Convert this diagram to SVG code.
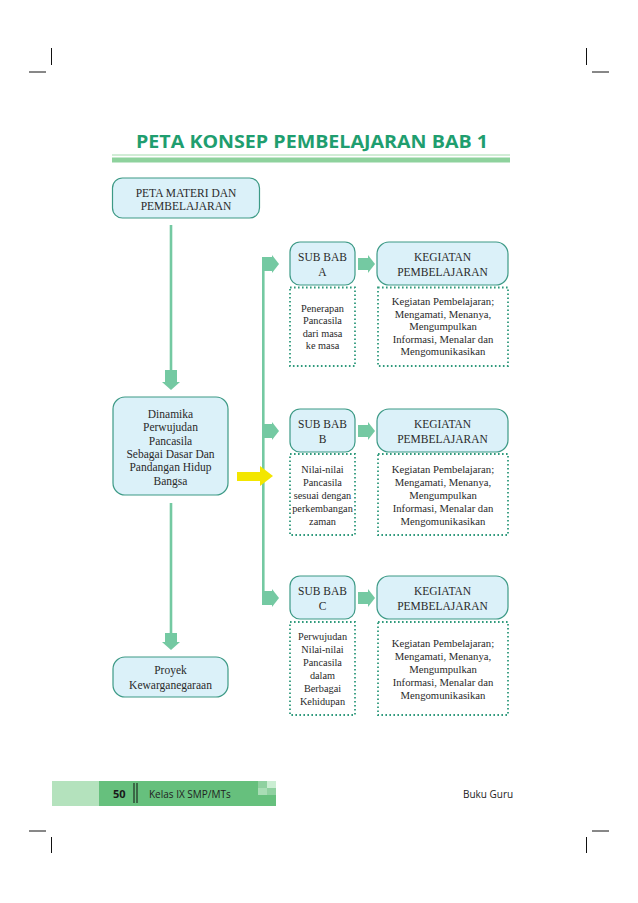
<svg xmlns="http://www.w3.org/2000/svg" width="638" height="903" viewBox="0 0 638 903">
<style>
.box{fill:#dbf1f9;stroke:#3d9a86;stroke-width:1.2}
.dot{fill:none;stroke:#2f9a7c;stroke-width:1.8;stroke-dasharray:1.6 2.4}
.t{font-family:"Liberation Serif","Times New Roman",serif;font-size:11.5px;fill:#2a2a2a;text-anchor:middle}
.s{font-family:"Liberation Serif","Times New Roman",serif;font-size:10.7px;fill:#2a2a2a;text-anchor:middle}
.sl{font-family:"Liberation Serif","Times New Roman",serif;font-size:10.3px;fill:#2a2a2a;text-anchor:middle}
.ln{stroke:#74c9a2;stroke-width:2.6;fill:none}
.ah{fill:#74c9a2}
.crop{stroke:#111;stroke-width:1;fill:none}
.ft{font-family:"Open Sans","Liberation Sans",sans-serif;font-size:10px;fill:#222}
</style>
<rect width="638" height="903" fill="#ffffff"/>
<g id="cropmarks">
<path class="crop" d="M51.5 48V65M29 72H46M586.5 48V65M592 72H609M29 831H46M51.5 837V853M592 831H609M586.5 837V853"/>
</g>
<g id="title">
<text x="136" y="147.5" font-family="'Open Sans','Liberation Sans',sans-serif" font-size="18" font-weight="bold" fill="#1f9e6f" textLength="352" lengthAdjust="spacingAndGlyphs">PETA KONSEP PEMBELAJARAN BAB 1</text>
<line x1="112" y1="155" x2="510" y2="155" stroke="#a2dbac" stroke-width="1"/>
<rect x="112" y="157.5" width="398" height="5" fill="#8ed29d"/>
</g>
<g id="connectors">
<line class="ln" x1="171" y1="225" x2="171" y2="372"/>
<rect class="ah" x="165" y="370" width="12" height="12"/>
<polygon class="ah" points="162,382 180,382 171,390"/>
<line class="ln" x1="171" y1="503" x2="171" y2="635"/>
<rect class="ah" x="165" y="633" width="12" height="9"/>
<polygon class="ah" points="162,642 180,642 171,650"/>
<line class="ln" x1="263.3" y1="264" x2="263.3" y2="598"/>
<rect class="ah" x="262" y="257" width="10" height="14"/>
<polygon class="ah" points="272,255 272,273 279,264"/>
<rect class="ah" x="262" y="424" width="10" height="14"/>
<polygon class="ah" points="272,422 272,440 279,431"/>
<rect class="ah" x="262" y="591" width="10" height="14"/>
<polygon class="ah" points="272,589 272,607 279,598"/>
<rect class="ah" x="358" y="258" width="10" height="12"/>
<polygon class="ah" points="368,255 368,273 375,264"/>
<rect class="ah" x="358" y="425" width="10" height="12"/>
<polygon class="ah" points="368,422 368,440 375,431"/>
<rect class="ah" x="358" y="592" width="10" height="12"/>
<polygon class="ah" points="368,589 368,607 375,598"/>
<rect x="237" y="472" width="23" height="9" fill="#f3e600"/>
<polygon points="260,466 260,486 273,476" fill="#f3e600"/>
</g>
<g id="peta-materi">
<rect class="box" x="112.5" y="178" width="147" height="40" rx="10"/>
<text class="t" x="186" y="196.5">PETA MATERI DAN</text>
<text class="t" x="186" y="210">PEMBELAJARAN</text>
</g>
<g id="dinamika">
<rect class="box" x="113" y="397" width="115" height="98" rx="12"/>
<text class="t" x="170.5" y="418">Dinamika</text>
<text class="t" x="170.5" y="431.3">Perwujudan</text>
<text class="t" x="170.5" y="444.6">Pancasila</text>
<text class="t" x="170.5" y="457.9">Sebagai Dasar Dan</text>
<text class="t" x="170.5" y="471.2">Pandangan Hidup</text>
<text class="t" x="170.5" y="484.5">Bangsa</text>
</g>
<g id="proyek">
<rect class="box" x="113" y="657" width="115" height="40" rx="12"/>
<text class="t" x="170.5" y="674">Proyek</text>
<text class="t" x="170.5" y="688.5">Kewarganegaraan</text>
</g>
<g id="subbab-a">
<rect class="box" x="290" y="242" width="65" height="43" rx="10"/>
<text class="t" x="322.5" y="261">SUB BAB</text>
<text class="t" x="322.5" y="276">A</text>
</g>
<g id="kegiatan-a">
<rect class="box" x="377" y="242" width="131" height="43" rx="12"/>
<text class="t" x="442.5" y="261">KEGIATAN</text>
<text class="t" x="442.5" y="276">PEMBELAJARAN</text>
</g>
<g id="materi-a">
<rect class="dot" x="290" y="287.5" width="65" height="78.5"/>
<text class="sl" x="322.5" y="311.5">Penerapan</text>
<text class="sl" x="322.5" y="324">Pancasila</text>
<text class="sl" x="322.5" y="336.5">dari masa</text>
<text class="sl" x="322.5" y="349">ke masa</text>
</g>
<g id="kegiatan-detail-a">
<rect class="dot" x="378" y="287.5" width="130" height="78.5"/>
<text class="s" x="443" y="305.3">Kegiatan Pembelajaran;</text>
<text class="s" x="443" y="317.8">Mengamati, Menanya,</text>
<text class="s" x="443" y="330.3">Mengumpulkan</text>
<text class="s" x="443" y="342.8">Informasi, Menalar dan</text>
<text class="s" x="443" y="355.3">Mengomunikasikan</text>
</g>
<g id="subbab-b">
<rect class="box" x="290" y="409" width="65" height="43" rx="10"/>
<text class="t" x="322.5" y="428">SUB BAB</text>
<text class="t" x="322.5" y="443">B</text>
</g>
<g id="kegiatan-b">
<rect class="box" x="377" y="409" width="131" height="43" rx="12"/>
<text class="t" x="442.5" y="428">KEGIATAN</text>
<text class="t" x="442.5" y="443">PEMBELAJARAN</text>
</g>
<g id="materi-b">
<rect class="dot" x="290" y="454" width="65" height="81"/>
<text class="sl" x="322.5" y="473">Nilai-nilai</text>
<text class="sl" x="322.5" y="486">Pancasila</text>
<text class="sl" x="322.5" y="499">sesuai dengan</text>
<text class="sl" x="322.5" y="512">perkembangan</text>
<text class="sl" x="322.5" y="525">zaman</text>
</g>
<g id="kegiatan-detail-b">
<rect class="dot" x="378" y="454" width="130" height="81"/>
<text class="s" x="443" y="473">Kegiatan Pembelajaran;</text>
<text class="s" x="443" y="486">Mengamati, Menanya,</text>
<text class="s" x="443" y="499">Mengumpulkan</text>
<text class="s" x="443" y="512">Informasi, Menalar dan</text>
<text class="s" x="443" y="525">Mengomunikasikan</text>
</g>
<g id="subbab-c">
<rect class="box" x="290" y="576" width="65" height="43" rx="10"/>
<text class="t" x="322.5" y="595">SUB BAB</text>
<text class="t" x="322.5" y="610">C</text>
</g>
<g id="kegiatan-c">
<rect class="box" x="377" y="576" width="131" height="43" rx="12"/>
<text class="t" x="442.5" y="595">KEGIATAN</text>
<text class="t" x="442.5" y="610">PEMBELAJARAN</text>
</g>
<g id="materi-c">
<rect class="dot" x="290" y="622" width="65" height="93"/>
<text class="sl" x="322.5" y="640">Perwujudan</text>
<text class="sl" x="322.5" y="653">Nilai-nilai</text>
<text class="sl" x="322.5" y="666">Pancasila</text>
<text class="sl" x="322.5" y="679">dalam</text>
<text class="sl" x="322.5" y="692">Berbagai</text>
<text class="sl" x="322.5" y="705">Kehidupan</text>
</g>
<g id="kegiatan-detail-c">
<rect class="dot" x="378" y="622" width="130" height="93"/>
<text class="s" x="443" y="647">Kegiatan Pembelajaran;</text>
<text class="s" x="443" y="660">Mengamati, Menanya,</text>
<text class="s" x="443" y="673">Mengumpulkan</text>
<text class="s" x="443" y="686">Informasi, Menalar dan</text>
<text class="s" x="443" y="699">Mengomunikasikan</text>
</g>
<g id="footer">
<rect x="52" y="781" width="47" height="25" fill="#b4e2bd"/>
<rect x="99" y="781" width="177" height="25" fill="#66c07d"/>
<rect x="258" y="781" width="9" height="7" fill="#8fd1a0"/>
<rect x="267" y="781" width="9" height="7" fill="#cbeed3"/>
<rect x="258" y="788" width="9" height="7" fill="#a8ddb5"/>
<rect x="267" y="788" width="9" height="7" fill="#8fd1a0"/>
<text x="113" y="798" font-family="'Open Sans','Liberation Sans',sans-serif" font-size="11" font-weight="bold" fill="#1a1a1a">50</text>
<path d="M134 783V803M137 783V803" stroke="#111" stroke-width="1"/>
<text class="ft" x="149" y="798">Kelas IX SMP/MTs</text>
<text class="ft" x="463" y="798">Buku Guru</text>
</g>
</svg>
